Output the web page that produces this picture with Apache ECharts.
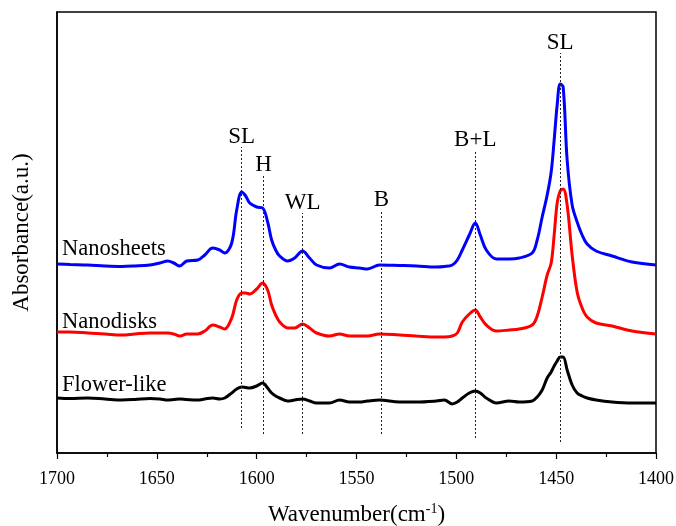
<!DOCTYPE html>
<html><head><meta charset="utf-8">
<script src="https://cdn.jsdelivr.net/npm/echarts@6/dist/echarts.min.js"></script>
<style>html,body{margin:0;padding:0;background:#fff}#c{width:676px;height:526px}</style>
</head><body><div id="c"></div>
<script>
// Wavenumbers (cm-1)
const wavenumbers = [1700,1693.5,1684.5,1676,1667.5,1661,1653.5,1648.5,1644.5,1641.5,
1638.5,1635,1629.5,1626,1622,1618.5,1616,1612.5,1610,1607.5,
1605.5,1603.5,1600,1597,1594.5,1592.5,1590.5,1588.5,1584.5,1581,
1577,1573.5,1570,1563.5,1558.5,1553.5,1548.5,1544.5,1538.5,1528.5,
1520,1510,1506,1502,1499.5,1497,1493.5,1490.5,1488,1485,
1480,1473.5,1468.5,1462,1459.5,1457,1454.5,1452.5,1451,1449.5,
1448,1446.5,1444.5,1442,1439.5,1437,1434.5,1430,1422,1412,1400];
// Absorbance (a.u., offset-stacked)
const nanosheets = [189,188.5,188,187,186.5,187,188,190,192,190,
187,192,193,198,205,203,200,210,243,261,
257,250,246,245,231,213,203,197,192,195,
202,195,188,185,189,186,185,184,188,187.5,
187,186,186.5,188,193,203,218,230,218,203,
194,194,195,200,213,236,258,281,313,348,
369,366,293,248,231,218,209,202,197,191,188];
const nanodisks = [121,121,120,119,118,119,120,120,120,119,
117,119,119,122,128,126,124,135,153,160,
160,159,164,170,163,148,138,131,125,125,
129,125,120,117,119,117,117,117,119,118,
117,116,116,117,120,131,139,143,136,128,
122,123,124,128,137,156,178,190,218,250,
262,264,248,198,161,145,136,130,127,122,119];
const flowerLike = [55,54.5,55,54,53,53.5,54.5,54,53,53.5,
54,53.5,53,54,55,54,55,60,64,66,
65.5,65,67,70,65,60,57,55,52,53,
54,52,50,50,53,51,51,52,53,51,
51,52,53,49,51,55,60,62,60,55,
50,52,51,52,56,63,75,81,87,92,
96,96,83,68,60,57,55,53,51,50,50];
const seriesNames = ['Nanosheets','Nanodisks','Flower-like'];
// Band assignments (vertical dotted guides)
const bandWave = [1607.5,1596.5,1577,1537.5,1490.5,1448];
const bandLabel = ['SL','H','WL','B','B+L','SL'];
const bandTop = [306,278,240,243,303,400];
const bandBottom = [25,19,19,19,15,11];
const xTicks = [1700,1650,1600,1550,1500,1450,1400];

const font = '"Liberation Serif","Times New Roman",serif';
const chart = echarts.init(document.getElementById('c'), null, {renderer:'canvas'});
function pairs(vals){ return wavenumbers.map((w,i)=>[w, vals[i]]); }
const colors = ['#0000ff','#ff0000','#000000'];
const allVals = [nanosheets, nanodisks, flowerLike];
const series = allVals.map((v,i)=>({
  name: seriesNames[i], type:'line', data: pairs(v), symbol:'none', smooth:0.35,
  lineStyle:{color:colors[i], width:3}, z: 3-i, animation:false
}));
series.push({
  type:'line', data:[], silent:true, animation:false,
  markLine:{
    symbol:'none', silent:true, animation:false,
    lineStyle:{color:'#222', type:[2,2], width:1},
    label:{show:true, position:'end', formatter:p=>p.name, color:'#000',
      fontFamily:font, fontSize:23, distance:-1},
    data: bandWave.map((w,i)=>[{coord:[w,bandBottom[i]], name:bandLabel[i]},{coord:[w,bandTop[i]]}])
  }
});
const labelTops = [238, 311, 374];
chart.setOption({
  animation:false,
  grid:{left:57,right:20,top:12,bottom:73,show:true,borderColor:'#000',borderWidth:1.5,
    backgroundColor:'transparent', containLabel:false, outerBoundsMode:'none'},
  xAxis:{type:'value', min:1400, max:1700, interval:50, inverse:true,
    name:'Wavenumber(cm{sup|-1})', nameLocation:'middle', nameGap:49,
    nameTextStyle:{fontFamily:font, fontSize:23, color:'#000',
      rich:{sup:{fontFamily:font, fontSize:14, color:'#000', verticalAlign:'top', padding:[0,0,11,0]}}},
    axisLine:{lineStyle:{color:'#000', width:1.5}},
    axisTick:{show:true, inside:false, length:6, lineStyle:{color:'#000', width:1.2}},
    minorTick:{show:true, splitNumber:2, length:4, lineStyle:{color:'#000', width:1.2}},
    axisLabel:{fontFamily:font, fontSize:18, color:'#000', margin:17,
      formatter:v=>xTicks.includes(v)?String(v):''},
    splitLine:{show:false}
  },
  yAxis:{type:'value', min:0, max:441,
    name:'Absorbance(a.u.)', nameLocation:'middle', nameGap:24,
    nameTextStyle:{fontFamily:font, fontSize:23, color:'#000'},
    axisLine:{show:true, lineStyle:{color:'#000', width:1.5}},
    axisTick:{show:false}, axisLabel:{show:false}, splitLine:{show:false}
  },
  graphic: seriesNames.map((n,i)=>({type:'text', left:62, top:labelTops[i],
    style:{text:n, font:'22.5px '+font, fill:'#000'}, z:10})),
  series: series
});
</script></body></html>
